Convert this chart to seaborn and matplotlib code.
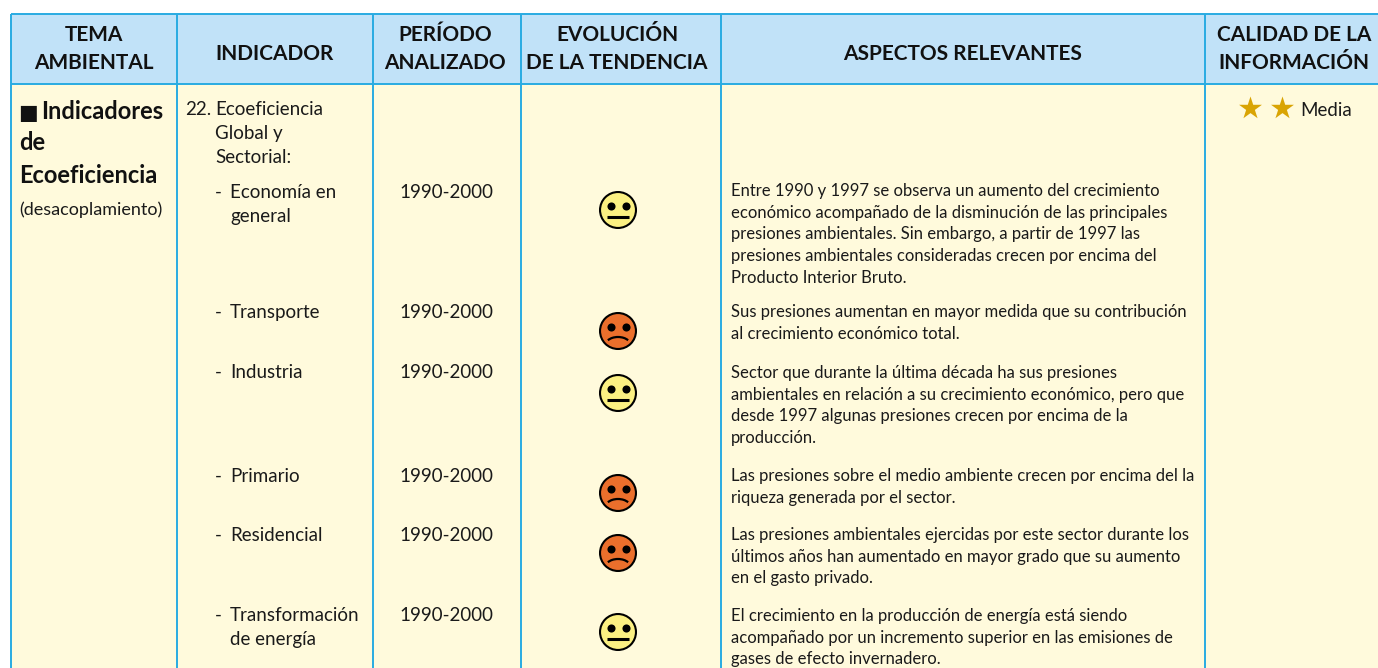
#
# Tabla de indicadores de ecoeficiencia
#
from matplotlib.patches import Arc, Rectangle
import matplotlib.pyplot as plt
import pandas as pd
import seaborn as sns

# datos de la tabla
cabeceras = ['TEMA\nAMBIENTAL', 'INDICADOR', 'PERÍODO\nANALIZADO', 'EVOLUCIÓN\nDE LA TENDENCIA', 'ASPECTOS RELEVANTES', 'CALIDAD DE LA\nINFORMACIÓN']
sectores = ['Economía en\ngeneral', 'Transporte', 'Industria', 'Primario', 'Residencial', 'Transformación\nde energía']
periodos = ['1990-2000'] * 6
tendencias = ['neutra', 'mala', 'neutra', 'mala', 'mala', 'neutra']
aspectos = [
    'Entre 1990 y 1997 se observa un aumento del crecimiento\neconómico acompañado de la disminución de las principales\npresiones ambientales. Sin embargo, a partir de 1997 las\npresiones ambientales consideradas crecen por encima del\nProducto Interior Bruto.',
    'Sus presiones aumentan en mayor medida que su contribución\nal crecimiento económico total.',
    'Sector que durante la última década ha sus presiones\nambientales en relación a su crecimiento económico, pero que\ndesde 1997 algunas presiones crecen por encima de la\nproducción.',
    'Las presiones sobre el medio ambiente crecen por encima del la\nriqueza generada por el sector.',
    'Las presiones ambientales ejercidas por este sector durante los\núltimos años han aumentado en mayor grado que su aumento\nen el gasto privado.',
    'El crecimiento en la producción de energía está siendo\nacompañado por un incremento superior en las emisiones de\ngases de efecto invernadero.',
]
calidad_estrellas = 2
calidad_texto = 'Media'

# maquetación (en píxeles de la figura)
W, H = 1378, 668
lineas_x = [11, 177, 373, 521, 721, 1205]
centros_cab = [94, 275, 445, 617, 963, 1294]
y_cab_top, y_cab_bottom, y_fin = 14, 84, 668
base_sector = [198, 318, 378, 482, 541, 621]
base_aspecto = [196, 317, 378, 481, 540, 621]
y_cara = [210, 331, 393, 493, 553, 632]
x_cara = 618

AZUL_LINEA = '#29ABE2'
AZUL_CAB = '#C1E2F8'
CREMA = '#FFFADC'
TINTA = '#1a1a1a'
COLORES_CARA = {'neutra': '#FBF082', 'mala': '#EB6F2C'}
FUENTE = ['Lato', 'DejaVu Sans']


def lineas(ax, x, y, texto, paso, **kw):
    """
    escribe un texto línea a línea con un paso fijo
    """
    for i, t in enumerate(texto.split('\n')):
        ax.text(x, y + i * paso, t, va='baseline', family=FUENTE, **kw)


sns.set_theme(style='white')
fig = plt.figure(figsize=(W / 100, H / 100), dpi=100)
ax = fig.add_axes([0, 0, 1, 1])
ax.set_xlim(0, W)
ax.set_ylim(H, 0)
ax.axis('off')

# fondos y líneas
ax.add_patch(Rectangle((lineas_x[0], y_cab_top), W - lineas_x[0], y_cab_bottom - y_cab_top, fc=AZUL_CAB, ec='none'))
ax.add_patch(Rectangle((lineas_x[0], y_cab_bottom), W - lineas_x[0], y_fin - y_cab_bottom, fc=CREMA, ec='none'))
for x in lineas_x:
    ax.plot([x, x], [y_cab_top, y_fin], color=AZUL_LINEA, lw=1.4, solid_capstyle='butt')
for y in [y_cab_top, y_cab_bottom]:
    ax.plot([lineas_x[0], W], [y, y], color=AZUL_LINEA, lw=1.4, solid_capstyle='butt')

# cabecera
for c, t in zip(centros_cab, cabeceras):
    base = 60 if '\n' not in t else 41
    lineas(ax, c, base, t, 28, ha='center', fontsize=15, fontweight='bold', color='#111111')

# primera columna
ax.text(18, 119, '■', family=FUENTE, fontsize=15, color='#111111', va='baseline')
ax.text(41, 119, 'Indicadores', family=FUENTE, fontsize=17, fontweight='bold', color='#111111', va='baseline')
lineas(ax, 19, 150, 'de\nEcoeficiencia', 33, fontsize=17, fontweight='bold', color='#111111')
ax.text(19, 215, '(desacoplamiento)', family=FUENTE, fontsize=13, color=TINTA, va='baseline')

# indicador
ax.text(185, 115, '22.', family=FUENTE, fontsize=13.5, color=TINTA, va='baseline')
lineas(ax, 215, 115, 'Ecoeficiencia\nGlobal y\nSectorial:', 24, fontsize=13.5, color=TINTA)
for s, y in zip(sectores, base_sector):
    ax.text(215, y, '-', family=FUENTE, fontsize=13.5, color=TINTA, va='baseline')
    lineas(ax, 230, y, s, 24, fontsize=13.5, color=TINTA)

# período y aspectos
for p, y in zip(periodos, base_sector):
    ax.text(446, y, p, family=FUENTE, fontsize=13.5, color=TINTA, ha='center', va='baseline')
for a, y in zip(aspectos, base_aspecto):
    lineas(ax, 731, y, a, 21.7, fontsize=12, color=TINTA)

# caras de la tendencia
caras = pd.DataFrame({'x': [x_cara] * len(tendencias), 'y': y_cara, 'tendencia': tendencias})
sns.scatterplot(data=caras, x='x', y='y', hue='tendencia', palette=COLORES_CARA, s=670,
                edgecolor='black', linewidth=1.5, legend=False, ax=ax, zorder=3)
ojos = pd.concat([caras.assign(x=caras.x - 7.5, y=caras.y - 4), caras.assign(x=caras.x + 7.5, y=caras.y - 4)])
sns.scatterplot(data=ojos, x='x', y='y', color='black', s=34, linewidth=0, legend=False, ax=ax, zorder=4)
for y, t in zip(y_cara, tendencias):
    if t == 'neutra':
        ax.plot([x_cara - 11, x_cara + 11], [y + 7, y + 7], color='black', lw=2.2, solid_capstyle='butt', zorder=4)
    else:
        ax.add_patch(Arc((x_cara, y + 14), 25, 16, theta1=205, theta2=335, color='black', lw=1.6, zorder=4))

# calidad de la información
estrellas = pd.DataFrame({'x': [1250 + 32 * i for i in range(calidad_estrellas)], 'y': [108] * calidad_estrellas})
sns.scatterplot(data=estrellas, x='x', y='y', marker='*', color='#D9A404', s=300, linewidth=0, legend=False, ax=ax, zorder=3)
ax.text(1300, 116, calidad_texto, family=FUENTE, fontsize=13.5, color=TINTA, va='baseline')

ax.set_xlabel('')
ax.set_ylabel('')
fig.savefig('out.png', dpi=100, facecolor='white')
